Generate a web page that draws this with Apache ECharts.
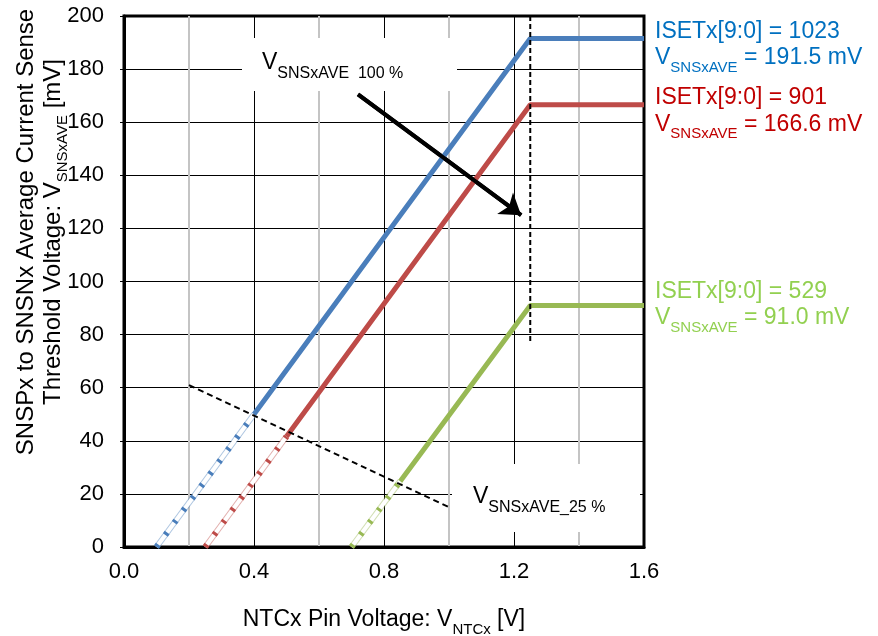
<!DOCTYPE html>
<html>
<head>
<meta charset="utf-8">
<script src="https://cdn.jsdelivr.net/npm/echarts@6/dist/echarts.min.js"></script>
<style>
  html, body { margin: 0; padding: 0; background: #fff; }
  #main { width: 878px; height: 636px; }
</style>
</head>
<body>
<div id="main"></div>
<script>
// x = NTCx pin voltage [V], y = VSNSxAVE threshold [mV]
const blueTail = [[0.1, 0], [0.4, 50]]
const blueLine = [[0.4, 50], [1.25, 191.5], [1.6, 191.5]]
const redTail = [[0.25, 0], [0.5, 41.6]]
const redLine = [[0.5, 41.6], [1.25, 166.6], [1.6, 166.6]]
const greenTail = [[0.7, 0], [0.85, 24.8]]
const greenLine = [[0.85, 24.8], [1.25, 91], [1.6, 91]]

// annotation lines
const line25 = [[0.2, 61], [1.0, 15]]
const limitLine = [[1.25, 200], [1.25, 77]]
const arrow100 = [[0.72, 170.5], [1.222, 125]]

const xTicks = [0, 0.4, 0.8, 1.2, 1.6]
const setLabels = [
  { iset: '1023', v: '191.5', color: '#0070c0', dy: 5 },
  { iset: '901', v: '166.6', color: '#c00000', dy: 5 },
  { iset: '529', v: '91.0', color: '#92d050', dy: -2 }
]

const FONT = 'Liberation Sans, Arial, sans-serif'
const BLUE = '#4a7ebb'
const RED = '#be4b48'
const GREEN = '#98b954'

// rich styles for text with a subscript (sub token pushed down by padding)
function subRich(color, size, subSize, drop) {
  return {
    m1: { fontFamily: FONT, fontSize: size, color: color, lineHeight: 30 },
    m: { fontFamily: FONT, fontSize: size, color: color, lineHeight: 24, verticalAlign: 'top' },
    s: { fontFamily: FONT, fontSize: subSize, color: color, lineHeight: subSize, padding: [drop, 0, 0, 0], verticalAlign: 'top' }
  }
}

// extrapolated part: white band, thin coloured edge, coloured dashes
function tail(data, color) {
  return [{
    type: 'line', data: data, symbol: 'none', silent: true, z: 3,
    lineStyle: { color: color, width: 6, opacity: 0.45 }
  }, {
    type: 'line', data: data, symbol: 'none', silent: true, z: 3,
    lineStyle: { color: '#fff', width: 4 }
  }, {
    type: 'line', data: data, symbol: 'none', silent: true, z: 4,
    lineStyle: { color: color, width: 6, type: [3, 12] }
  }]
}

function solid(data, color, info) {
  const last = data[data.length - 1]
  return {
    type: 'line', data: data, symbol: 'none', silent: true, z: 5,
    lineStyle: { color: color, width: 5 },
    markPoint: {
      symbol: 'circle', symbolSize: 0, silent: true, animation: false,
      label: {
        show: true, position: 'right', distance: 11, offset: [0, info.dy],
        formatter: '{m1|ISETx[9:0] = ' + info.iset + '}\n{m|V}{s|SNSxAVE}{m| = ' + info.v + ' mV}',
        rich: subRich(info.color, 23, 15, 14)
      },
      data: [{ coord: last }]
    }
  }
}

const chart = echarts.init(document.getElementById('main'))

const option = {
  animation: false,
  backgroundColor: '#fff',
  grid: {
    left: 124, top: 16, right: 234, bottom: 89,
    outerBoundsMode: 'none', containLabel: false,
    show: true, borderColor: '#000', borderWidth: 3
  },
  xAxis: {
    type: 'value', min: 0, max: 1.6, interval: 0.4,
    axisLine: { show: true, lineStyle: { color: '#000', width: 3 } },
    axisTick: { show: false },
    axisLabel: {
      fontFamily: FONT, fontSize: 22, color: '#000', margin: 14,
      formatter: v => xTicks.indexOf(Math.round(v * 10) / 10) >= 0 ? v.toFixed(1) : ''
    },
    splitLine: { show: true, lineStyle: { color: '#000', width: 1 } },
    minorTick: { show: false, splitNumber: 2 },
    minorSplitLine: { show: true, lineStyle: { color: '#c4c4c4', width: 2 } },
    name: '{m|NTCx Pin Voltage: V}{s|NTCx}{m| [V]}',
    nameLocation: 'middle', nameGap: 61,
    nameTextStyle: { rich: subRich('#000', 23, 15, 14) }
  },
  yAxis: {
    type: 'value', min: 0, max: 200, interval: 20,
    axisLine: { show: true, lineStyle: { color: '#000', width: 3 } },
    axisTick: { show: true, inside: false, length: 4, lineStyle: { color: '#000', width: 1 } },
    axisLabel: { fontFamily: FONT, fontSize: 22, color: '#000', margin: 20 },
    splitLine: { show: true, lineStyle: { color: '#000', width: 1 } }
  },
  graphic: [
    {
      type: 'text', x: 38, y: 232, rotation: Math.PI / 2, z: 100,
      style: {
        text: '{m1|SNSPx to SNSNx Average Current Sense}\n{m|Threshold Voltage: V}{s|SNSxAVE}{m| [mV]}',
        rich: subRich('#000', 24, 15, 14),
        align: 'center', verticalAlign: 'middle'
      }
    },
    { type: 'rect', z: 100, shape: { x: 242, y: 38, width: 215, height: 53 }, style: { fill: '#fff' } },
    {
      type: 'text', x: 262, y: 51, z: 101,
      style: {
        text: '{m|V}{s|SNSxAVE  100 %}',
        rich: subRich('#000', 23, 16, 15),
        align: 'left', verticalAlign: 'top'
      }
    },
    { type: 'rect', z: 100, shape: { x: 452, y: 464, width: 188, height: 68 }, style: { fill: '#fff' } },
    {
      type: 'text', x: 473, y: 485, z: 101,
      style: {
        text: '{m|V}{s|SNSxAVE_25 %}',
        rich: subRich('#000', 23, 16, 15),
        align: 'left', verticalAlign: 'top'
      }
    }
  ],
  series: [
    ...tail(blueTail, BLUE),
    ...tail(redTail, RED),
    ...tail(greenTail, GREEN),
    solid(blueLine, BLUE, setLabels[0]),
    solid(redLine, RED, setLabels[1]),
    solid(greenLine, GREEN, setLabels[2]),
    {
      type: 'line', data: line25, symbol: 'none', silent: true, z: 6,
      lineStyle: { color: '#000', width: 2, type: [6, 4] }
    },
    {
      type: 'line', data: limitLine, symbol: 'none', silent: true, z: 6,
      lineStyle: { color: '#000', width: 2, type: [5, 3] }
    },
    {
      type: 'line', data: arrow100, symbol: 'none', silent: true, z: 6,
      lineStyle: { color: '#000', width: 4 },
      markLine: {
        silent: true, animation: false,
        symbol: ['none', 'arrow'], symbolSize: 20,
        label: { show: false },
        lineStyle: { color: '#000', width: 4, type: 'solid' },
        data: [[{ coord: arrow100[0] }, { coord: arrow100[1] }]]
      }
    }
  ]
}

chart.setOption(option)
</script>
</body>
</html>
